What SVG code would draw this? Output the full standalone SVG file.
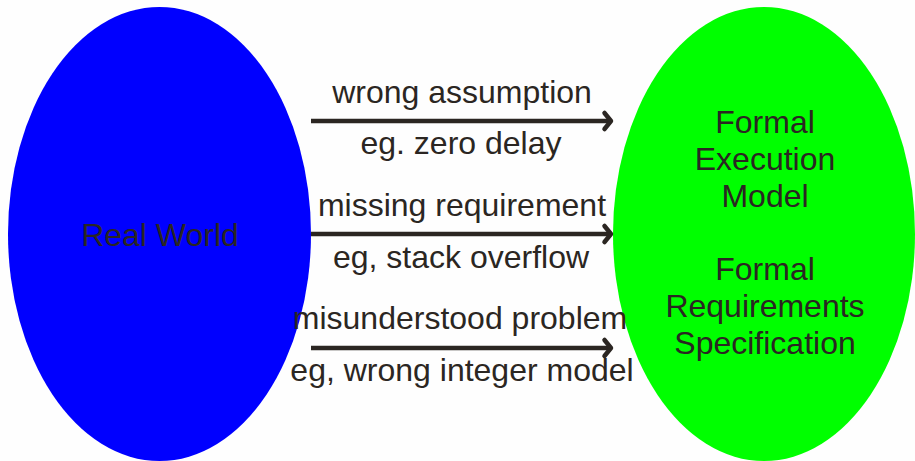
<svg xmlns="http://www.w3.org/2000/svg" width="915" height="461" viewBox="0 0 915 461">
<style>
text{font-family:"Liberation Sans",Arial,sans-serif;font-size:32px;fill:#2b2622;text-anchor:middle}
.c{stroke:#2b2622;stroke-width:4.5;fill:none}
</style>
<defs>
<marker id="ah" viewBox="0 0 10 10" refX="8.5" refY="5" markerWidth="10" markerHeight="10" markerUnits="userSpaceOnUse" orient="auto" overflow="visible">
<path d="M2,-3 L8.5,5 L2,13" fill="none" stroke="#2b2622" stroke-width="4.5" stroke-linecap="round" stroke-linejoin="round"/>
</marker>
</defs>
<rect width="915" height="461" fill="#fefefe"/>
<g id="real-world">
<ellipse cx="159.5" cy="234" rx="151.5" ry="227" fill="#0000ff"/>
<text x="160" y="246">Real World</text>
</g>
<g id="formal">
<ellipse cx="764" cy="234" rx="151" ry="227" fill="#00ff00"/>
<text x="765" y="133">Formal</text>
<text x="765" y="170">Execution</text>
<text x="765" y="207">Model</text>
<text x="765" y="280">Formal</text>
<text x="765" y="317">Requirements</text>
<text x="765" y="354">Specification</text>
</g>
<g id="connectors">
<line class="c" x1="311" y1="121" x2="611" y2="121" marker-end="url(#ah)"/>
<line class="c" x1="311" y1="234" x2="611" y2="234" marker-end="url(#ah)"/>
<line class="c" x1="311" y1="348" x2="611" y2="348" marker-end="url(#ah)"/>
<text x="462" y="103">wrong assumption</text>
<text x="461" y="154">eg. zero delay</text>
<text x="462" y="216">missing requirement</text>
<text x="461" y="268">eg, stack overflow</text>
<text x="460" y="329">misunderstood problem</text>
<text x="462" y="381">eg, wrong integer model</text>
</g>
</svg>
